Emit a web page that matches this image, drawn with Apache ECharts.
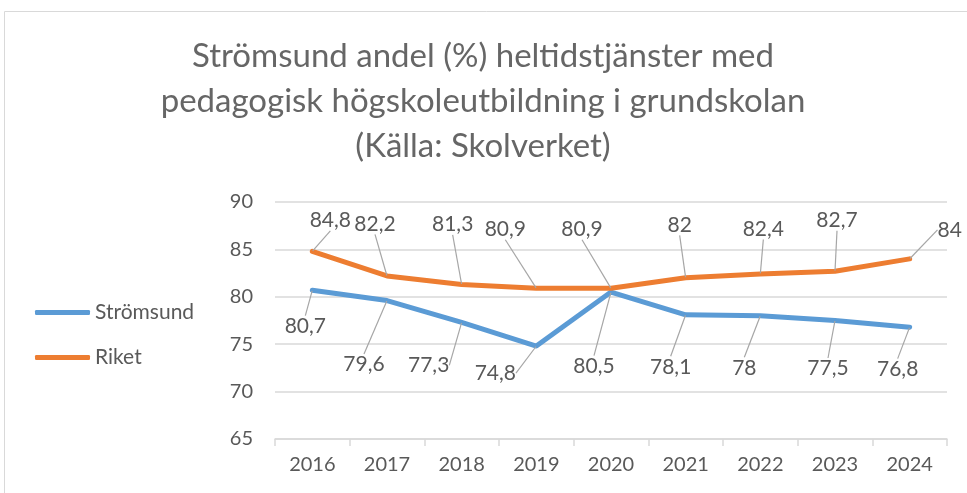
<!DOCTYPE html>
<html>
<head>
<meta charset="utf-8">
<script src="https://cdn.jsdelivr.net/npm/echarts@6/dist/echarts.min.js"></script>
<style>
  html, body { margin: 0; padding: 0; background: #fff; }
  #main { width: 967px; height: 493px; }
</style>
</head>
<body>
<div id="main"></div>
<script>
const years = ['2016', '2017', '2018', '2019', '2020', '2021', '2022', '2023', '2024'];
const stromsund = [80.7, 79.6, 77.3, 74.8, 80.5, 78.1, 78, 77.5, 76.8];
const riket = [84.8, 82.2, 81.3, 80.9, 80.9, 82, 82.4, 82.7, 84];
const yTicks = [65, 70, 75, 80, 85, 90];

// label offsets (px) from each point, as placed in the original
const stromsundLabelOffset = [[-7, 36], [-23, 64], [-33, 43], [-41, 27], [-17, 74], [-15, 52], [-16, 52], [-7, 48], [-12, 42]];
const riketLabelOffset = [[18, -31], [-12, -52], [-9, -60], [-31, -59], [-29, -59], [-6, -53], [3, -45], [2, -51], [40, -29]];

const FONT = 'Lato, "Open Sans", sans-serif';
const GREY = '#595959';

const chart = echarts.init(document.getElementById('main'), null, { renderer: 'canvas' });

function lineSeries(name, data, color, offsets) {
  return {
    name: name,
    type: 'line',
    data: data,
    symbol: 'circle',
    symbolSize: 1,
    showSymbol: true,
    lineStyle: { color: color, width: 5, cap: 'round', join: 'round' },
    itemStyle: { color: color },
    label: {
      show: true,
      position: 'inside',
      align: 'center',
      verticalAlign: 'middle',
      color: GREY,
      fontFamily: FONT,
      fontSize: 21,
      formatter: p => String(p.value).replace('.', ',')
    },
    labelLine: {
      show: true,
      lineStyle: { color: '#a6a6a6', width: 1.2 }
    },
    labelLayout: params => {
      const o = offsets[params.dataIndex];
      return { dx: o[0], dy: o[1] };
    },
    emphasis: { disabled: true },
    z: 3
  };
}

const option = {
  animation: false,
  textStyle: { fontFamily: FONT },
  title: {
    text: 'Strömsund andel (%) heltidstjänster med\npedagogisk högskoleutbildning i grundskolan\n(Källa: Skolverket)',
    left: 478,
    textAlign: 'center',
    top: 29,
    textStyle: {
      color: '#666666',
      fontFamily: FONT,
      fontWeight: 'normal',
      fontSize: 33,
      lineHeight: 45
    }
  },
  legend: {
    orient: 'vertical',
    left: 35,
    top: 302,
    padding: 0,
    itemWidth: 55,
    itemHeight: 5,
    itemGap: 24,
    icon: 'roundRect',
    textStyle: { color: GREY, fontFamily: FONT, fontSize: 21 },
    data: ['Strömsund', 'Riket']
  },
  grid: {
    left: 275,
    right: 20,
    top: 202,
    bottom: 54,
    containLabel: false
  },
  xAxis: {
    type: 'category',
    data: years,
    boundaryGap: true,
    axisLine: { lineStyle: { color: '#d9d9d9', width: 1.5 } },
    axisTick: { show: true, length: 7, lineStyle: { color: '#d9d9d9', width: 1.5 } },
    axisLabel: { color: GREY, fontFamily: FONT, fontSize: 20, margin: 16 }
  },
  yAxis: {
    type: 'value',
    min: yTicks[0],
    max: yTicks[yTicks.length - 1],
    interval: 5,
    axisLine: { show: false },
    axisTick: { show: false },
    axisLabel: { color: GREY, fontFamily: FONT, fontSize: 20, margin: 22 },
    splitLine: { lineStyle: { color: '#d9d9d9', width: 1.5 } }
  },
  graphic: [{
    type: 'rect',
    shape: { x: 4.5, y: 11.5, width: 1000, height: 500 },
    style: { fill: 'none', stroke: '#d9d9d9', lineWidth: 1 },
    silent: true
  }],
  series: [
    lineSeries('Strömsund', stromsund, '#5b9bd5', stromsundLabelOffset),
    lineSeries('Riket', riket, '#ed7d31', riketLabelOffset)
  ]
};

chart.setOption(option);
</script>
</body>
</html>
